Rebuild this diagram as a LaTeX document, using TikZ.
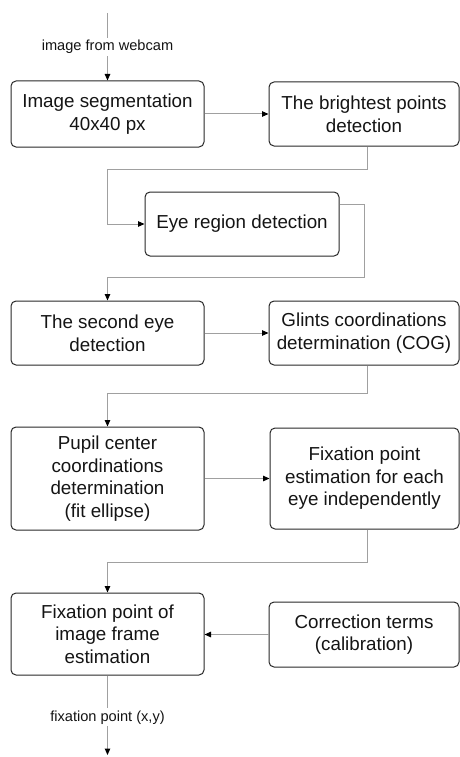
\documentclass[tikz,border=0pt]{standalone}
\usepackage{fontspec}
\setmainfont{Liberation Sans}
\usetikzlibrary{arrows.meta}
\definecolor{connc}{RGB}{160,160,160}
\definecolor{boxc}{RGB}{40,40,40}
\definecolor{txtc}{RGB}{20,20,20}
\tikzset{
  procbox/.style={draw=boxc, line width=1pt, rounded corners=5pt, align=center,
    inner sep=0pt, text=txtc, font=\fontsize{18.8}{22.6}\selectfont},
  conn/.style={draw=connc, line width=1pt, -{Triangle[length=6.5pt,width=5.5pt,black]}},
  lbl/.style={fill=white, inner sep=2pt, text=txtc, font=\fontsize{14.6}{17}\selectfont}
}
\begin{document}
\begin{tikzpicture}[x=1pt,y=-1pt]
\useasboundingbox (0,0) rectangle (460,757);
\node[procbox, minimum width=193pt, minimum height=66pt] (b1) at (107.5,114) {Image segmentation\\40x40 px};
\node[procbox, minimum width=190pt, minimum height=64pt] (b2) at (364,114) {The brightest points\\detection};
\node[procbox, minimum width=194pt, minimum height=64pt] (b3) at (242,224) {Eye region detection};
\node[procbox, minimum width=193pt, minimum height=64pt] (b4) at (107.5,333) {The second eye\\detection};
\node[procbox, minimum width=190pt, minimum height=64pt] (b5) at (364,333) {Glints coordinations\\determination (COG)};
\node[procbox, minimum width=193pt, minimum height=103pt] (b6) at (107.5,478.5) {Pupil center\\coordinations\\determination\\(fit ellipse)};
\node[procbox, minimum width=189pt, minimum height=101pt] (b7) at (364.5,478.5) {Fixation point\\estimation for each\\eye independently};
\node[procbox, minimum width=193pt, minimum height=82pt] (b8) at (107.5,634) {Fixation point of\\image frame\\estimation};
\node[procbox, minimum width=190pt, minimum height=65pt] (b9) at (364,634.5) {Correction terms\\(calibration)};

\coordinate (top) at (107.5,13);
\coordinate (k1) at (107.5,169);
\coordinate (k2) at (364,277);
\coordinate (k3) at (107.5,393);
\coordinate (k4) at (107.5,562);
\coordinate (bot) at (107.5,755);

\draw[conn] (top) -- node[lbl, pos=0.5] {image from webcam} (b1.north);
\draw[conn] (b1.east) -- (b2.west);
\draw[conn] ([xshift=3pt]b2.south) |- (k1) |- (b3.west);
\draw[conn] ([yshift=20pt]b3.east) -| (k2) -| (b4.north);
\draw[conn] (b4.east) -- (b5.west);
\draw[conn] ([xshift=3pt]b5.south) |- (k3) -- (b6.north);
\draw[conn] (b6.east) -- (b7.west);
\draw[conn] ([xshift=3pt]b7.south) |- (k4) -- (b8.north);
\draw[conn] (b9.west) -- (b9.west -| b8.east);
\draw[conn] (b8.south) -- node[lbl, pos=0.525] {fixation point (x,y)} (bot);
\end{tikzpicture}
\end{document}
